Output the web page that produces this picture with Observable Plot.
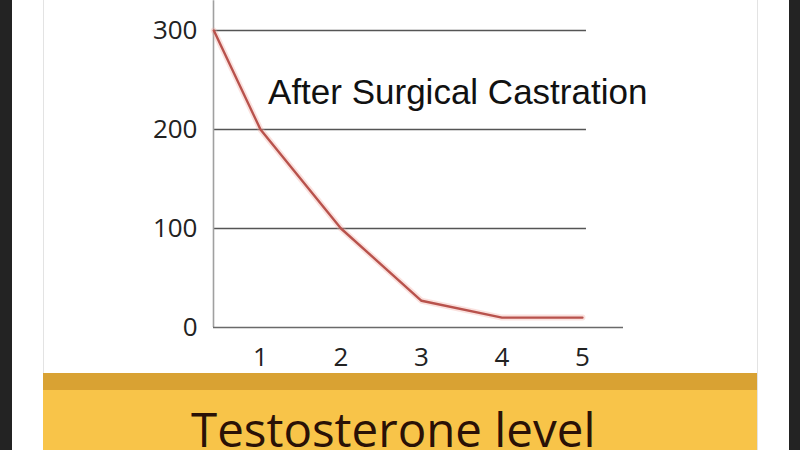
<!DOCTYPE html>
<html>
<head>
<meta charset="utf-8">
<script src="https://cdn.jsdelivr.net/npm/d3@7"></script>
<script src="https://cdn.jsdelivr.net/npm/@observablehq/plot@0.6"></script>
<style>
  body { margin: 0; background: #fff; }
  #frame { position: relative; width: 800px; height: 450px; overflow: hidden; background: #fff; }
  .edge { position: absolute; top: 0; height: 450px; background: #232323; }
  .thin { position: absolute; top: 0; width: 1px; height: 450px; background: #e3e3e3; }
  #chart { position: absolute; left: 0; top: 0; }
  #band { position: absolute; left: 43px; top: 373px; width: 714px; height: 77px;
          background: #f8c449; border-top: 17px solid #d9a233; box-sizing: border-box; }
  #title { position: absolute; left: 191px; top: 409px; font-family: "Open Sans", sans-serif;
           font-size: 47.5px; line-height: 40px; height: 40px; color: #2a1106; white-space: nowrap; }
</style>
</head>
<body>
<div id="frame">
  <div class="edge" style="left:0;width:12px"></div>
  <div class="edge" style="left:789px;width:11px"></div>
  <div class="thin" style="left:43px"></div>
  <div class="thin" style="left:757px"></div>
  <div id="chart"></div>
  <div id="band"></div>
  <div id="title">Testosterone level</div>
</div>
<script>
// Data
const times = [0.42, 1, 2, 3, 4, 5];
const levels = [300, 200, 100, 27, 10, 10];
const xTicks = [1, 2, 3, 4, 5];
const yTicks = [0, 100, 200, 300];
const gridValues = [100, 200, 300];
const annotation = "After Surgical Castration";

const data = times.map((t, i) => ({t, v: levels[i]}));
const xMin = 0.416, xMax = 5.51, gridEnd = 5.05;

const chart = Plot.plot({
  width: 800,
  height: 373,
  marginLeft: 213,
  marginRight: 177,
  marginTop: 30,
  marginBottom: 46,
  style: {background: "transparent", fontFamily: "'Open Sans', sans-serif"},
  x: {domain: [xMin, xMax], ticks: xTicks, tickSize: 0, tickPadding: 20, tickFormat: d3.format("d"), label: null},
  y: {domain: [0, 300], ticks: yTicks, tickSize: 0, tickPadding: 16, label: null},
  marks: [
    Plot.ruleY(gridValues, {x1: xMin, x2: gridEnd, stroke: "#555", strokeWidth: 1.3}),
    Plot.ruleX([xMin], {y1: 0, y2: 330, stroke: "#a0a0a0", strokeWidth: 1.6}),
    Plot.ruleY([0], {x1: xMin, x2: xMax, stroke: "#6a6a6a", strokeWidth: 1.5}),
    Plot.line(data, {x: "t", y: "v", stroke: "#f0a8a0", strokeWidth: 6, strokeOpacity: 0.35}),
    Plot.line(data, {x: "t", y: "v", stroke: "#b8524c", strokeWidth: 2.4}),
    Plot.text([annotation], {x: 3.45, y: 237, text: d => d, fontSize: 35, fill: "#111",
      fontFamily: "'Liberation Sans', Arial, sans-serif", textAnchor: "middle"}),
    Plot.axisX({ticks: xTicks, tickSize: 0, tickPadding: 20, fontSize: 26, color: "#222", tickFormat: d3.format("d"), label: null}),
    Plot.axisY({ticks: yTicks, tickSize: 0, tickPadding: 16, fontSize: 26, color: "#222", label: null})
  ]
});
document.getElementById("chart").appendChild(chart);
</script>
</body>
</html>
